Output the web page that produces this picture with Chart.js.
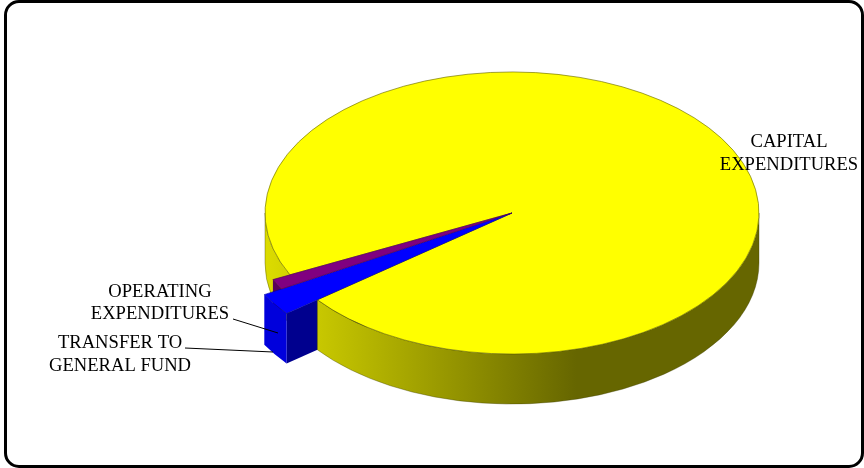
<!DOCTYPE html>
<html>
<head>
<meta charset="utf-8">
<title>Expenditures</title>
<script src="https://cdn.jsdelivr.net/npm/chart.js@4"></script>
<style>
  html, body { margin: 0; padding: 0; background: #fff; overflow: hidden; }
  #wrap { position: relative; width: 864px; height: 468px; overflow: hidden; }
  #frame {
    position: absolute; left: 4px; top: 0; width: 860px; height: 468px;
    border: 3.5px solid #000; border-radius: 15px; box-sizing: border-box;
  }
  canvas { position: absolute; left: 0; top: 0; }
</style>
</head>
<body>
<div id="wrap">
  <canvas id="pie" width="864" height="468"></canvas>
  <div id="frame"></div>
</div>
<script>
// values (share of the pie, in percent)
const categories = ['CAPITAL EXPENDITURES', 'OPERATING EXPENDITURES', 'TRANSFER TO GENERAL FUND'];
const shares = [96.67, 2.22, 1.11];
const sliceColors = ['#ffff00', '#0000ff', '#800080'];
const edgeColors = ['#666600', '#0000a0', '#500050'];

// look of the tilted pie
const tilt = 0.571;
const depth = 50;
const radii = [247, 286, 266];   // the two small slices stick out of the pie
const startAngle = 244;

// text lines and leader lines
const labels = [
  { text: 'CAPITAL', x: 789, y: 142 },
  { text: 'EXPENDITURES', x: 789, y: 165 },
  { text: 'OPERATING', x: 160, y: 292 },
  { text: 'EXPENDITURES', x: 160, y: 314 },
  { text: 'TRANSFER TO', x: 120, y: 343 },
  { text: 'GENERAL FUND', x: 120, y: 366 }
];
const leaders = [
  [233, 319, 278, 333],
  [185, 348, 273, 352]
];

// outer wall of a slice, only the part that faces the viewer
function drawWall(ctx, arc, r, from, to, fill, edge) {
  ctx.beginPath();
  ctx.ellipse(arc.x, arc.y, r, r * tilt, 0, from, to);
  ctx.ellipse(arc.x, arc.y + depth, r, r * tilt, 0, to, from, true);
  ctx.closePath();
  ctx.fillStyle = fill;
  ctx.fill();
  if (edge) {
    ctx.lineWidth = 0.6;
    ctx.strokeStyle = edge;
    ctx.stroke();
  }
}

// flat cut face going from the rim to the middle of the pie
function drawCutFace(ctx, arc, r, angle, fill) {
  const px = arc.x + Math.cos(angle) * r;
  const py = arc.y + Math.sin(angle) * r * tilt;
  ctx.beginPath();
  ctx.moveTo(px, py);
  ctx.lineTo(arc.x, arc.y);
  ctx.lineTo(arc.x, arc.y + depth);
  ctx.lineTo(px, py + depth);
  ctx.closePath();
  ctx.fillStyle = fill;
  ctx.fill();
}

const pie3d = {
  id: 'pie3d',
  afterDatasetsUpdate(chart) {
    chart.getDatasetMeta(0).data.forEach((arc, i) => {
      arc.outerRadius = radii[i];
    });
  },
  beforeDatasetsDraw(chart) {
    const ctx = chart.ctx;
    const [capital, operating, transfer] = chart.getDatasetMeta(0).data;
    const TAU = Math.PI * 2;

    const shade = ctx.createLinearGradient(265, 0, 759, 0);
    shade.addColorStop(0, '#dcdc00');
    shade.addColorStop(0.105, '#c8c800');
    shade.addColorStop(0.63, '#666600');
    shade.addColorStop(1, '#666600');

    // back to front: left bit of the big slice, the small slices, then the rest
    drawWall(ctx, capital, radii[0], capital.startAngle, Math.PI, shade, 'rgba(60,60,0,0.6)');
    drawWall(ctx, transfer, radii[2], transfer.startAngle, transfer.endAngle, '#5a005a');
    drawCutFace(ctx, operating, radii[1], operating.startAngle, '#00008e');
    drawWall(ctx, operating, radii[1], operating.startAngle, operating.endAngle, '#0000dc');
    drawWall(ctx, capital, radii[0], TAU, capital.endAngle, shade, 'rgba(60,60,0,0.6)');

    // top faces go through the library, squashed into an ellipse
    const { x, y } = capital;
    ctx.save();
    ctx.translate(x, y);
    ctx.scale(1, tilt);
    ctx.translate(-x, -y);
  },
  afterDatasetsDraw(chart) {
    chart.ctx.restore();
  },
  afterDraw(chart) {
    const ctx = chart.ctx;
    ctx.save();
    ctx.strokeStyle = '#000';
    ctx.lineWidth = 1;
    leaders.forEach(l => {
      ctx.beginPath();
      ctx.moveTo(l[0], l[1]);
      ctx.lineTo(l[2], l[3]);
      ctx.stroke();
    });
    ctx.fillStyle = '#000';
    ctx.font = '18.6px "Liberation Serif"';
    ctx.textAlign = 'center';
    ctx.textBaseline = 'middle';
    labels.forEach(l => ctx.fillText(l.text, l.x, l.y));
    ctx.restore();
  }
};

new Chart(document.getElementById('pie').getContext('2d'), {
  type: 'pie',
  data: {
    labels: categories,
    datasets: [{
      data: shares,
      backgroundColor: sliceColors,
      borderColor: edgeColors,
      borderWidth: 0.8
    }]
  },
  options: {
    responsive: false,
    animation: false,
    radius: radii[0],
    rotation: startAngle,
    // puts the middle of the pie at 512, 213
    layout: { padding: { left: 160, bottom: 42 } },
    plugins: { legend: { display: false }, tooltip: { enabled: false } }
  },
  plugins: [pie3d]
});
</script>
</body>
</html>
